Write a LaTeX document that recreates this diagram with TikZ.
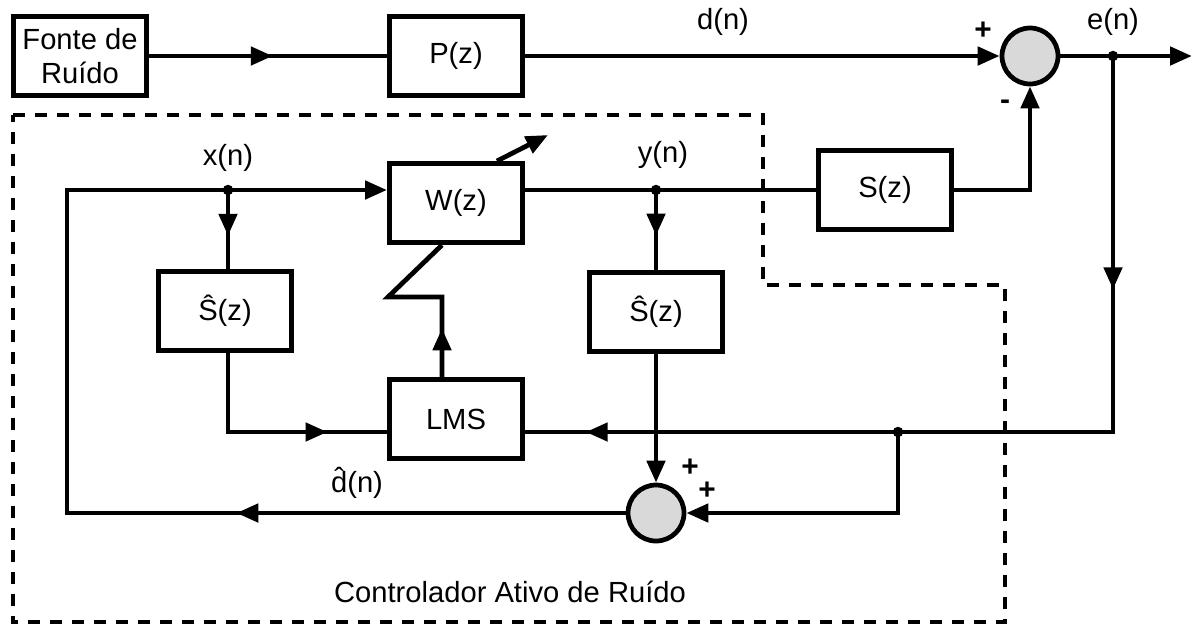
\documentclass[tikz,border=0pt]{standalone}
\usepackage{fontspec}
\setmainfont{Liberation Sans}
\usetikzlibrary{arrows.meta,positioning,calc,decorations.markings}
\definecolor{sumgray}{RGB}{217,217,217}
\tikzset{
  sigln/.style={line width=0.095cm, line join=miter},
  tipln/.style={-{Triangle[length=0.44cm,width=0.36cm]}},
  arrowat/.style={postaction={decorate,decoration={markings,
      mark=at position #1 with {\arrow{Triangle[length=0.44cm,width=0.36cm]}}}}},
  blockbox/.style={draw, line width=0.1cm, minimum width=2.66cm, minimum height=1.58cm,
      inner sep=0pt, align=center, font=\fontsize{16.6}{19.8}\selectfont},
  sumnode/.style={draw, circle, line width=0.095cm, fill=sumgray, minimum size=1.12cm, inner sep=0pt},
  lbl/.style={inner sep=0pt, font=\fontsize{16.6}{19}\selectfont},
  sgn/.style={inner sep=0pt, font=\fontsize{17}{18}\selectfont\bfseries},
  dashbox/.style={line width=0.07cm, dash pattern=on 0.24cm off 0.2cm},
}
\newcommand{\jdot}[1]{\fill #1 circle (0.105cm);}

\begin{document}
\begin{tikzpicture}[x=0.02cm, y=-0.02cm]
    \useasboundingbox (0,0) rectangle (1195,626);
    % controller boundary
    \draw[dashbox] (13,115) -- (763,115) -- (763,285) -- (1005,285) -- (1005,622) -- (13,622) -- cycle;
    % blocks
    \node[blockbox] (fonte) at (80,56) {Fonte de\\Ruído};
    \node[blockbox] (pz) at (456,56) {P(z)};
    \node[blockbox] (wz) at (456,203) {W(z)};
    \node[blockbox] (sz) at (885,190) {S(z)};
    \node[blockbox] (sh1) at (225,311) {Ŝ(z)};
    \node[blockbox] (sh2) at (656,312) {Ŝ(z)};
    \node[blockbox] (lms) at (456,419) {LMS};
    \node[sumnode] (sum1) at (1030,56) {};
    \node[sumnode] (sum2) at (656,513) {};
    % junctions and corners
    \coordinate (xdot) at (228,190);
    \coordinate (ydot) at (656,190);
    \coordinate (edot) at (1113,56);
    \coordinate (fdot) at (898,432);
    \coordinate (eout) at (1192,56);
    \coordinate (tl) at (67,190);
    \coordinate (bl) at (67,513);
    \coordinate (zz1) at (442,297);
    \coordinate (zz2) at (388,297);
    \coordinate (wadapt) at ($(wz.north)+(41,0)$);
    % primary path
    \draw[sigln, arrowat=0.52] (fonte.east) -- (pz.west);
    \draw[sigln, tipln] (pz.east) -- (sum1.west);
    \draw[sigln, tipln] (sum1.east) -- (eout);
    \draw[sigln, arrowat=0.242, arrowat=0.937] (edot) |- (lms.east |- fdot);
    \draw[sigln, tipln] (fdot) |- (sum2.east);
    % reference loop
    \draw[sigln, arrowat=0.324, tipln] (sum2.west) -- (bl) -- (tl) -- (wz.west |- xdot);
    \draw[sigln, arrowat=0.58] (xdot) -- (xdot |- sh1.north);
    \draw[sigln, arrowat=0.75] (xdot |- sh1.south) |- (lms.west |- fdot);
    \draw[sigln, arrowat=0.233] (zz1 |- lms.north) -- (zz1) -- (zz2) -- (zz1 |- wz.south);
    \draw[sigln, tipln] (wadapt) -- ++(51,-26);
    % secondary path
    \draw[sigln] (wz.east |- ydot) -- (sz.west);
    \draw[sigln, tipln] (sz.east) -| (sum1.south);
    \draw[sigln, arrowat=0.57] (ydot) -- (ydot |- sh2.north);
    \draw[sigln, tipln] (sh2.south) -- (sum2.north);
    \jdot{(xdot)} \jdot{(ydot)} \jdot{(edot)} \jdot{(fdot)}
    % labels
    \node[lbl] (xlab) at (228,158) {x(n)};
    \node[lbl] (ylab) at (663,155) {y(n)};
    \node[lbl] (dlab) at (723,22) {d(n)};
    \node[lbl] (elab) at (1113,22) {e(n)};
    \node[lbl] (dhlab) at (357,483) {\accent"02C6 d(n)};
    \node[sgn] (pls1) at (983,31) {+};
    \node[sgn] (mns1) at (1005,105) {-};
    \node[sgn] (pls2) at (690,468) {+};
    \node[sgn] (pls3) at (707,491) {+};
    \node[lbl] (ctrl) at (510,592) {Controlador Ativo de Ruído};
\end{tikzpicture}
\end{document}
